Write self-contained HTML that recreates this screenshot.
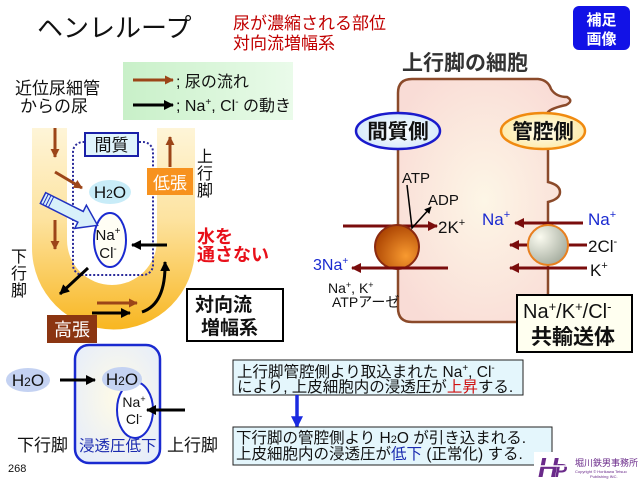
<!DOCTYPE html>
<html><head><meta charset="utf-8"><style>
html,body{margin:0;padding:0;background:#fff;}
svg{display:block;}
text{font-family:"Liberation Sans","Noto Sans CJK JP",sans-serif;}
</style></head><body>
<svg width="640" height="480" viewBox="0 0 640 480" xmlns="http://www.w3.org/2000/svg">
<defs>
<linearGradient id="ug" x1="0" y1="128" x2="0" y2="330" gradientUnits="userSpaceOnUse">
<stop offset="0" stop-color="#fef5d8"/><stop offset="0.45" stop-color="#fde3a0"/><stop offset="1" stop-color="#f8b620"/></linearGradient>
<linearGradient id="lg" x1="0" y1="0" x2="1" y2="0"><stop offset="0" stop-color="#c8f0c8"/><stop offset="1" stop-color="#eafbea"/></linearGradient>
<radialGradient id="cellg" cx="0.5" cy="0.5" r="0.6"><stop offset="0" stop-color="#fdf6e6"/><stop offset="1" stop-color="#f9dcd6"/></radialGradient>
<radialGradient id="og" cx="0.7" cy="0.7" r="0.8"><stop offset="0" stop-color="#f89a30"/><stop offset="1" stop-color="#a84000"/></radialGradient>
<radialGradient id="gg" cx="0.3" cy="0.3" r="0.8"><stop offset="0" stop-color="#fbfbf0"/><stop offset="1" stop-color="#a2aa9c"/></radialGradient>
<radialGradient id="bg1" cx="0.5" cy="0.5" r="0.6"><stop offset="0" stop-color="#ffffff"/><stop offset="1" stop-color="#cfe6fa"/></radialGradient>
<radialGradient id="yg1" cx="0.5" cy="0.5" r="0.6"><stop offset="0" stop-color="#fffdf0"/><stop offset="1" stop-color="#fde8a0"/></radialGradient>
<radialGradient id="boxg" cx="0.5" cy="0.45" r="0.7"><stop offset="0" stop-color="#fffbe6"/><stop offset="1" stop-color="#e4ecfc"/></radialGradient>
<marker id="mb" viewBox="0 0 10 10" refX="9" refY="5" markerWidth="9" markerHeight="9" markerUnits="userSpaceOnUse" orient="auto"><path d="M0,0 L10,5 L0,10 z" fill="#9c4518"/></marker>
<marker id="mk" viewBox="0 0 10 10" refX="9" refY="5" markerWidth="10" markerHeight="10" markerUnits="userSpaceOnUse" orient="auto"><path d="M0,0 L10,5 L0,10 z" fill="#000"/></marker>
<marker id="mks" viewBox="0 0 10 10" refX="9" refY="5" markerWidth="7" markerHeight="7" markerUnits="userSpaceOnUse" orient="auto"><path d="M0,0 L10,5 L0,10 z" fill="#000"/></marker>
<marker id="mm" viewBox="0 0 10 10" refX="9" refY="5" markerWidth="10" markerHeight="10" markerUnits="userSpaceOnUse" orient="auto"><path d="M0,0 L10,5 L0,10 z" fill="#7a0c0c"/></marker>
<marker id="mbl" viewBox="0 0 10 10" refX="9" refY="5" markerWidth="12" markerHeight="12" markerUnits="userSpaceOnUse" orient="auto"><path d="M0,0 L10,5 L0,10 z" fill="#1a2ae0"/></marker>
</defs>

<!-- Title -->
<text x="37" y="37" font-size="26" fill="#111">ヘンレループ</text>
<text x="233" y="29" font-size="17" fill="#c00000">尿が濃縮される部位</text>
<text x="233" y="49" font-size="17" fill="#c00000">対向流増幅系</text>
<rect x="573" y="6" width="57" height="44" rx="6" fill="#1212e6"/>
<text x="601.5" y="25" font-size="15" font-weight="bold" fill="#fff" text-anchor="middle">補足</text>
<text x="601.5" y="44" font-size="15" font-weight="bold" fill="#fff" text-anchor="middle">画像</text>

<!-- legend -->
<text x="15" y="94" font-size="17" fill="#111">近位尿細管</text>
<text x="20" y="112" font-size="17" fill="#111">からの尿</text>
<rect x="123" y="62" width="170" height="58" fill="url(#lg)"/>
<line x1="133" y1="80" x2="173" y2="80" stroke="#9c4518" stroke-width="3" marker-end="url(#mb)"/>
<line x1="133" y1="105" x2="173" y2="105" stroke="#000" stroke-width="3" marker-end="url(#mk)"/>
<text x="176" y="87" font-size="16" fill="#111">; 尿の流れ</text>
<text x="176" y="111" font-size="16" fill="#111">; Na<tspan font-size="10" dy="-6">+</tspan><tspan dy="6">, Cl</tspan><tspan font-size="10" dy="-6">-</tspan><tspan dy="6"> の動き</tspan></text>

<!-- U tube -->
<path d="M32,128 L32,248 A81.5,81.5 0 0 0 195,248 L195,128 L157,128 L157,240 A45,45 0 0 1 67,240 L67,128 Z" fill="url(#ug)"/>
<rect x="73" y="142" width="80" height="133" rx="10" fill="none" stroke="#2a2a9a" stroke-width="2" stroke-dasharray="2 2"/>
<rect x="85" y="133" width="53" height="23" fill="#e0f4fc" stroke="#1a20a8" stroke-width="2"/>
<text x="111.5" y="151" font-size="17" text-anchor="middle" fill="#111">間質</text>
<ellipse cx="110" cy="192" rx="21" ry="12" fill="#c8ecf8"/>
<text x="110" y="198" font-size="17" text-anchor="middle" fill="#111">H<tspan font-size="12">2</tspan>O</text>
<ellipse cx="110" cy="240" rx="16" ry="27" fill="#fffef4" stroke="#1a2ad0" stroke-width="2"/>
<text x="108" y="240" font-size="15" text-anchor="middle" fill="#111">Na<tspan font-size="10" dy="-6">+</tspan></text>
<text x="108" y="258" font-size="15" text-anchor="middle" fill="#111">Cl<tspan font-size="10" dy="-6">-</tspan></text>
<!-- hollow arrow -->
<g transform="translate(43,198) rotate(26.6)">
<path d="M0,-6 L42,-6 L42,-13 L61,0 L42,13 L42,6 L0,6 Z" fill="#d8f0fa" stroke="#2030c0" stroke-width="1.5"/>
<line x1="3" y1="-6" x2="3" y2="6" stroke="#2030c0" stroke-width="1"/>
<line x1="6" y1="-6" x2="6" y2="6" stroke="#2030c0" stroke-width="1"/>
<line x1="9" y1="-6" x2="9" y2="6" stroke="#2030c0" stroke-width="1"/>
</g>
<!-- brown arrows -->
<line x1="55" y1="128" x2="55" y2="157" stroke="#9c4518" stroke-width="3" marker-end="url(#mb)"/>
<line x1="55" y1="172" x2="82" y2="188" stroke="#9c4518" stroke-width="3" marker-end="url(#mb)"/>
<line x1="55" y1="220" x2="55" y2="249" stroke="#9c4518" stroke-width="3" marker-end="url(#mb)"/>
<line x1="170" y1="167" x2="170" y2="137" stroke="#9c4518" stroke-width="3" marker-end="url(#mb)"/>
<line x1="97" y1="303" x2="137" y2="303" stroke="#9c4518" stroke-width="3" marker-end="url(#mb)"/>
<!-- black arrows -->
<line x1="92" y1="313" x2="130" y2="313" stroke="#000" stroke-width="3" marker-end="url(#mk)"/>
<path d="M142,312 Q166,304 165,262" fill="none" stroke="#000" stroke-width="3" marker-end="url(#mk)"/>
<line x1="167" y1="245" x2="132" y2="245" stroke="#000" stroke-width="3" marker-end="url(#mk)"/>
<line x1="88" y1="268" x2="60" y2="294" stroke="#000" stroke-width="3" marker-end="url(#mk)"/>
<!-- labels -->
<rect x="147" y="168" width="46" height="27" fill="#f7921e"/>
<text x="170" y="189" font-size="17" text-anchor="middle" fill="#fff">低張</text>
<text x="205" y="162" font-size="16" text-anchor="middle" fill="#111">上</text>
<text x="205" y="179" font-size="16" text-anchor="middle" fill="#111">行</text>
<text x="205" y="196" font-size="16" text-anchor="middle" fill="#111">脚</text>
<text x="19" y="262" font-size="16" text-anchor="middle" fill="#111">下</text>
<text x="19" y="279" font-size="16" text-anchor="middle" fill="#111">行</text>
<text x="19" y="296" font-size="16" text-anchor="middle" fill="#111">脚</text>
<text x="197" y="243" font-size="18" font-weight="bold" fill="#e8101a">水を</text>
<text x="197" y="261" font-size="18" font-weight="bold" fill="#e8101a">通さない</text>
<rect x="47" y="315" width="50" height="28" fill="#8b3511"/>
<text x="72" y="336" font-size="18" text-anchor="middle" fill="#fff">高張</text>
<rect x="187" y="289" width="96" height="52" fill="#fff" stroke="#000" stroke-width="2"/>
<text x="195" y="311" font-size="19" font-weight="bold" fill="#111">対向流</text>
<text x="201" y="334" font-size="19" font-weight="bold" fill="#111">増幅系</text>

<!-- cell -->
<text x="402" y="70" font-size="21" font-weight="bold" fill="#333">上行脚の細胞</text>
<path d="M412,79 L538,79 Q548,80 551,89 Q556,97 567,97 Q574,101 566,105 Q552,108 548,112 L548,182 Q560,185 560,192 Q560,199 548,202 L548,292 Q548,322 525,322 L412,322 Q398,322 398,308 L398,93 Q398,79 412,79 Z" fill="url(#cellg)" stroke="#8b4a2a" stroke-width="2.5"/>
<ellipse cx="398" cy="131" rx="42" ry="18" fill="url(#bg1)" stroke="#1a1acc" stroke-width="2.5"/>
<text x="398" y="138.5" font-size="20.5" font-weight="bold" text-anchor="middle" fill="#111">間質側</text>
<ellipse cx="543" cy="131" rx="42" ry="18" fill="url(#yg1)" stroke="#f08a10" stroke-width="2.5"/>
<text x="543" y="138.5" font-size="20.5" font-weight="bold" text-anchor="middle" fill="#111">管腔側</text>
<text x="402" y="183" font-size="15" fill="#111">ATP</text>
<text x="428" y="205" font-size="15" fill="#111">ADP</text>
<text x="438" y="233" font-size="17" fill="#111">2K<tspan font-size="11" dy="-7">+</tspan></text>
<line x1="343" y1="226" x2="437" y2="226" stroke="#7a0c0c" stroke-width="3" marker-end="url(#mm)"/>
<circle cx="397" cy="247" r="22" fill="url(#og)" stroke="#8b2a10" stroke-width="2"/>
<line x1="448" y1="268" x2="352" y2="268" stroke="#7a0c0c" stroke-width="3" marker-end="url(#mm)"/>
<path d="M407,185 L412,228 L431,207" fill="none" stroke="#000" stroke-width="1.5" marker-end="url(#mks)"/>
<text x="313" y="270" font-size="16" fill="#1a2ad0">3Na<tspan font-size="10" dy="-6">+</tspan></text>
<text x="328" y="293" font-size="14" fill="#111">Na<tspan font-size="9" dy="-5">+</tspan><tspan dy="5">, K</tspan><tspan font-size="9" dy="-5">+</tspan></text>
<text x="332" y="307" font-size="14" fill="#111">ATPアーゼ</text>
<!-- right transporter -->
<text x="482" y="225" font-size="17" fill="#1a2ad0">Na<tspan font-size="11" dy="-7">+</tspan></text>
<text x="588" y="225" font-size="17" fill="#1a2ad0">Na<tspan font-size="11" dy="-7">+</tspan></text>
<line x1="583" y1="223" x2="515" y2="223" stroke="#7a0c0c" stroke-width="3" marker-end="url(#mm)"/>
<line x1="587" y1="245" x2="510" y2="245" stroke="#7a0c0c" stroke-width="3" marker-end="url(#mm)"/>
<line x1="587" y1="268" x2="510" y2="268" stroke="#7a0c0c" stroke-width="3" marker-end="url(#mm)"/>
<circle cx="548" cy="245" r="20" fill="url(#gg)" stroke="#e88020" stroke-width="2"/>
<text x="588" y="252" font-size="17" fill="#111">2Cl<tspan font-size="11" dy="-7">-</tspan></text>
<text x="590" y="276" font-size="17" fill="#111">K<tspan font-size="11" dy="-7">+</tspan></text>
<rect x="517" y="295" width="115" height="57" fill="#fffff0" stroke="#000" stroke-width="2"/>
<text x="523" y="318" font-size="20" fill="#111">Na<tspan font-size="13" dy="-7">+</tspan><tspan dy="7">/K</tspan><tspan font-size="13" dy="-7">+</tspan><tspan dy="7">/Cl</tspan><tspan font-size="13" dy="-7">-</tspan></text>
<text x="531" y="344" font-size="21" font-weight="bold" fill="#111">共輸送体</text>

<!-- bottom left -->
<rect x="75" y="345" width="85" height="118" rx="14" fill="url(#boxg)" stroke="#1a2ad0" stroke-width="2.5"/>
<ellipse cx="28" cy="380" rx="22" ry="12" fill="#c4d2f2"/>
<text x="28" y="386" font-size="17" text-anchor="middle" fill="#111">H<tspan font-size="12">2</tspan>O</text>
<line x1="60" y1="380" x2="95" y2="380" stroke="#000" stroke-width="3" marker-end="url(#mk)"/>
<ellipse cx="135" cy="410" rx="18" ry="28" fill="#fff" stroke="#1a2ad0" stroke-width="2"/>
<ellipse cx="122" cy="379" rx="20" ry="12" fill="#c4d2f2"/>
<text x="122" y="385" font-size="17" text-anchor="middle" fill="#111">H<tspan font-size="12">2</tspan>O</text>
<text x="134" y="407" font-size="14" text-anchor="middle" fill="#111">Na<tspan font-size="9" dy="-5">+</tspan></text>
<text x="134" y="424" font-size="14" text-anchor="middle" fill="#111">Cl<tspan font-size="9" dy="-5">-</tspan></text>
<line x1="185" y1="410" x2="147" y2="410" stroke="#000" stroke-width="3" marker-end="url(#mk)"/>
<text x="17" y="451" font-size="17" fill="#111">下行脚</text>
<text x="79" y="451" font-size="15.5" fill="#1a2ab0">浸透圧低下</text>
<text x="167" y="451" font-size="17" fill="#111">上行脚</text>
<text x="8" y="472" font-size="11" fill="#111">268</text>

<!-- bottom text boxes -->
<rect x="233" y="360" width="290" height="35" fill="#e4f6fc" stroke="#222" stroke-width="1"/>
<text x="237" y="377" font-size="15.5" fill="#111">上行脚管腔側より取込まれた Na<tspan font-size="10" dy="-6">+</tspan><tspan dy="6">, Cl</tspan><tspan font-size="10" dy="-6">-</tspan></text>
<text x="237" y="392" font-size="15.5" fill="#111">により, 上皮細胞内の浸透圧が<tspan fill="#d01010">上昇</tspan>する.</text>
<line x1="297" y1="395" x2="297" y2="427" stroke="#1a2ae0" stroke-width="3.5" marker-end="url(#mbl)"/>
<rect x="233" y="427" width="319" height="38" fill="#e4f6fc" stroke="#222" stroke-width="1"/>
<text x="236" y="443" font-size="15.5" fill="#111">下行脚の管腔側より H<tspan font-size="11">2</tspan>O が引き込まれる.</text>
<text x="236" y="459" font-size="15.5" fill="#111">上皮細胞内の浸透圧が<tspan fill="#1a2ab0">低下</tspan> (正常化) する.</text>

<!-- logo -->
<rect x="534" y="452" width="106" height="28" fill="#fff"/>
<text x="538" y="477" font-size="28" font-weight="bold" font-style="italic" fill="#6a2a8a">H</text>
<text x="555" y="477" font-size="18" font-weight="bold" font-style="italic" fill="#6a2a8a">P</text>
<line x1="536" y1="466" x2="572" y2="466" stroke="#fff" stroke-width="1.5"/>
<text x="575" y="466" font-size="9" fill="#6a2a8a">堀川鉄男事務所</text>
<text x="575" y="473" font-size="4" fill="#6a2a8a">Copyright © Horikawa Tetsuo</text>
<text x="590" y="478" font-size="4" fill="#6a2a8a">Publishing INC.</text>
</svg>
</body></html>
